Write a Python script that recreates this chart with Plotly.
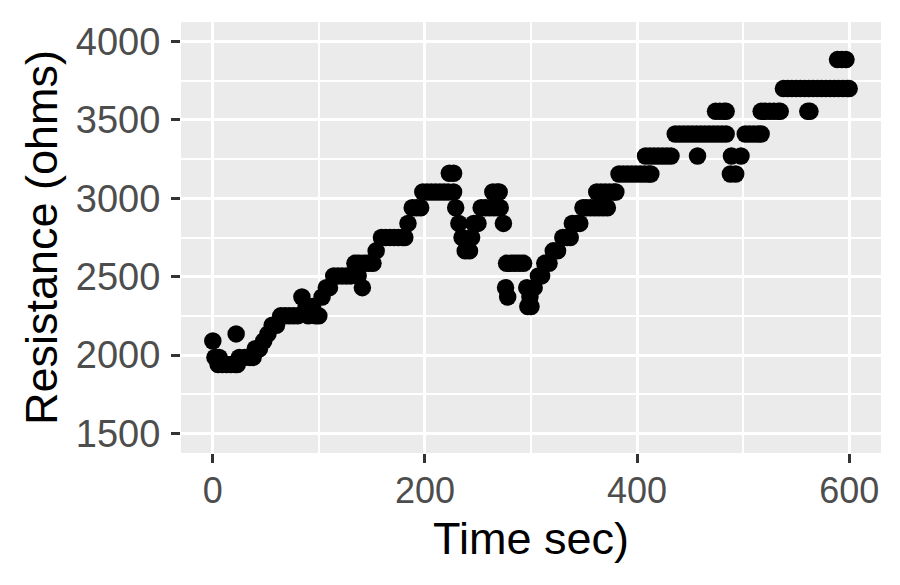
import plotly.graph_objects as go

# Data (time in seconds, resistance in ohms)
time_sec = [
    0, 2, 5, 6, 9, 13, 17, 21, 22, 23, 25, 30, 35, 38, 40, 44, 48, 52, 56, 60,
    64, 68, 72, 76, 80, 84, 88, 90, 94, 97, 100, 103, 107, 110, 114, 118, 122, 126, 130, 134,
    137, 138, 141, 143, 147, 151, 154, 159, 163, 167, 171, 175, 179, 181, 184, 188, 192, 196, 198, 202,
    206, 210, 214, 218, 222, 223, 227, 227, 229, 232, 235, 238, 242, 244, 246, 250, 253, 257, 261, 264,
    265, 268, 269, 270, 271, 274, 276, 277, 278, 281, 285, 289, 293, 296, 297, 299, 300, 303, 307, 310,
    313, 317, 321, 325, 330, 334, 337, 339, 343, 346, 349, 352, 356, 360, 362, 364, 366, 368, 370, 372,
    374, 378, 380, 383, 387, 391, 395, 399, 403, 407, 408, 411, 412, 413, 416, 420, 424, 428, 432, 436,
    440, 444, 448, 452, 456, 457, 460, 464, 468, 472, 474, 476, 478, 480, 482, 484, 484, 488, 489, 493,
    498, 502, 506, 510, 514, 517, 517, 521, 525, 529, 533, 535, 538, 542, 546, 550, 554, 558, 561, 562,
    563, 566, 570, 574, 578, 582, 586, 589, 590, 593, 594, 597, 598, 600,
]
resistance_ohms = [
    2090, 1985, 1940, 1985, 1940, 1940, 1940, 1940, 2135, 1940, 1985, 1985, 1985, 1985, 2040, 2040, 2090, 2135, 2190, 2190,
    2250, 2250, 2250, 2250, 2250, 2370, 2310, 2250, 2310, 2250, 2250, 2370, 2430, 2430, 2505, 2505, 2505, 2505, 2505, 2585,
    2505, 2585, 2430, 2585, 2585, 2585, 2665, 2750, 2750, 2750, 2750, 2750, 2750, 2750, 2840, 2940, 2940, 2940, 3040, 3040,
    3040, 3040, 3040, 3040, 3040, 3160, 3160, 3040, 2940, 2840, 2750, 2665, 2665, 2750, 2840, 2840, 2940, 2940, 2940, 3040,
    2940, 3040, 2940, 3040, 2940, 2840, 2430, 2585, 2370, 2585, 2585, 2585, 2585, 2430, 2310, 2370, 2310, 2430, 2505, 2505,
    2585, 2585, 2665, 2665, 2750, 2750, 2750, 2840, 2840, 2840, 2940, 2940, 2940, 2940, 3040, 2940, 3040, 2940, 3040, 2940,
    3040, 3040, 3040, 3155, 3155, 3155, 3155, 3155, 3155, 3155, 3270, 3155, 3270, 3155, 3270, 3270, 3270, 3270, 3270, 3410,
    3410, 3410, 3410, 3410, 3410, 3270, 3410, 3410, 3410, 3410, 3555, 3410, 3555, 3410, 3555, 3410, 3555, 3155, 3270, 3155,
    3270, 3410, 3410, 3410, 3410, 3410, 3555, 3555, 3555, 3555, 3555, 3555, 3700, 3700, 3700, 3700, 3700, 3700, 3555, 3700,
    3555, 3700, 3700, 3700, 3700, 3700, 3700, 3885, 3700, 3885, 3700, 3885, 3700, 3700,
]

x_ticks = [0, 200, 400, 600]
x_minor = [100, 300, 500]
y_ticks = [1500, 2000, 2500, 3000, 3500, 4000]
y_minor = [1750, 2250, 2750, 3250, 3750]

FONT = "Liberation Sans, Arial, sans-serif"

fig = go.Figure()
fig.add_trace(go.Scatter(
    x=time_sec, y=resistance_ohms, mode="markers",
    marker=dict(color="black", size=17.5, line=dict(width=0)),
    showlegend=False, hoverinfo="x+y",
))

axis_common = dict(
    ticks="outside", ticklen=9, tickwidth=2.5, tickcolor="#333333",
    showgrid=True, gridcolor="white", gridwidth=3,
    zeroline=False, showline=False,
)

# The page body adds an 8 px offset, so the figure is sized/margined to compensate.
fig.update_layout(
    width=892, height=577, autosize=False,
    paper_bgcolor="white", plot_bgcolor="#EBEBEB",
    margin=dict(l=173, r=19, t=14, b=132),
    xaxis=dict(
        range=[-30, 630], tickmode="array", tickvals=x_ticks,
        ticktext=[str(v) for v in x_ticks],
        tickfont=dict(family=FONT, size=36, color="#4D4D4D"),
        minor=dict(tickmode="array", tickvals=x_minor, showgrid=True,
                   gridcolor="white", gridwidth=1.5, ticks=""),
        title=dict(text="Time sec)", font=dict(family=FONT, size=45, color="black"), standoff=12),
        ticklabelstandoff=-3,
        **axis_common,
    ),
    yaxis=dict(
        range=[1375, 4125], tickmode="array", tickvals=y_ticks,
        ticktext=[str(v) for v in y_ticks],
        tickfont=dict(family=FONT, size=38, color="#4D4D4D"),
        minor=dict(tickmode="array", tickvals=y_minor, showgrid=True,
                   gridcolor="white", gridwidth=1.5, ticks=""),
        title=dict(text="Resistance (ohms)", font=dict(family=FONT, size=45, color="black"), standoff=4),
        ticklabelstandoff=3,
        **axis_common,
    ),
)

fig.write_html("out.html")
